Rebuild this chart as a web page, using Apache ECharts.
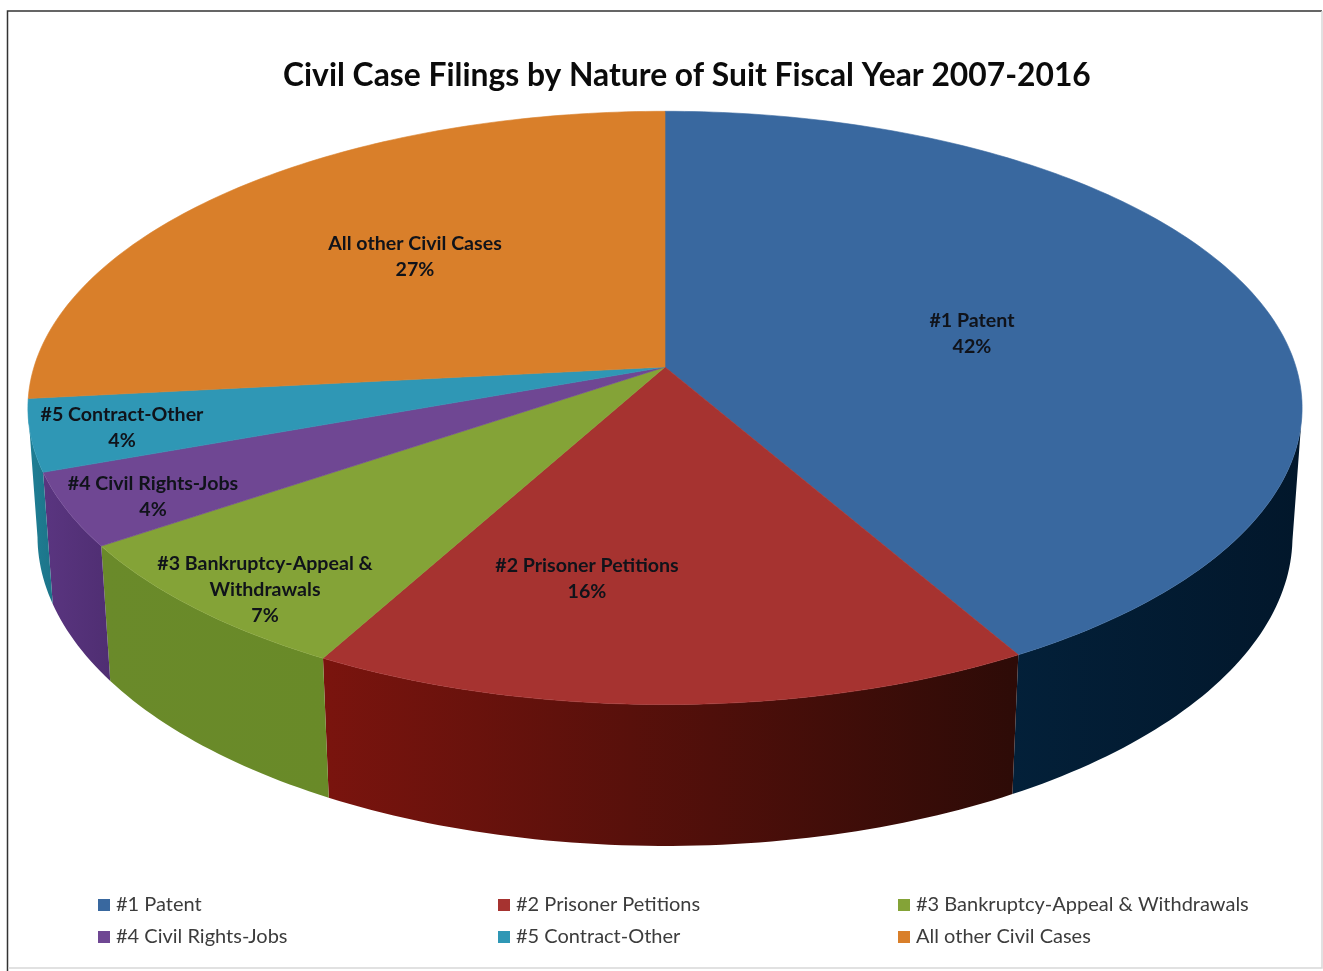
<!DOCTYPE html>
<html>
<head>
<meta charset="utf-8">
<style>html,body{margin:0;padding:0;background:#fff}#c{width:1323px;height:971px}</style>
<script src="https://cdn.jsdelivr.net/npm/echarts@6/dist/echarts.min.js"></script>
</head>
<body>
<div id="c"></div>
<script>
const titleText = 'Civil Case Filings by Nature of Suit Fiscal Year 2007-2016';
const categories = ['#1 Patent', '#2 Prisoner Petitions', '#3 Bankruptcy-Appeal & Withdrawals', '#4 Civil Rights-Jobs', '#5 Contract-Other', 'All other Civil Cases'];
const values = [41.8, 16.1, 7.5, 4.0, 3.9, 26.7];
const percentLabels = [42, 16, 7, 4, 4, 27];
const labelNames = ['#1 Patent', '#2 Prisoner Petitions', '#3 Bankruptcy-Appeal &\nWithdrawals', '#4 Civil Rights-Jobs', '#5 Contract-Other', 'All other Civil Cases'];
const topColors = ['#39689f', '#a63330', '#84a337', '#6f4793', '#2f97b5', '#d97f2a'];
const wallStops = [
  ['#032039', '#02172b'],
  ['#7a140e', '#2d0b07'],
  ['#6a8a2a', '#698a28'],
  ['#5a3580', '#4f2e72'],
  ['#1f7f95', '#1c7489'],
  ['#a85f1c', '#a85f1c']
];
// label anchor in the pie's own axis units (offset from the apex)
const labelAnchors = [[307, 33], [-78, -212], [-400, -223], [-512, -130], [-543, -61], [-250, 110]];

// perspective model of the disc
const A = 631, B = 291, K = 0.138, DROP = 129, M = 0.015;
function project(turn, depth) {
  const t = turn * 2 * Math.PI, X = Math.sin(t), Y = Math.cos(t);
  const w = 1 + K * Y + (depth ? M : 0);
  return [A * X / w, (B * Y - (depth ? DROP : 0)) / w];
}
const total = values.reduce((a, b) => a + b, 0);
function turns(from, to) {
  const n = Math.max(2, Math.ceil((to - from) * 360));
  const out = [];
  for (let i = 0; i <= n; i++) out.push(from + (to - from) * i / n);
  return out;
}
const chart = echarts.init(document.getElementById('c'), null, {renderer: 'canvas'});
const FONT = 'Lato';
let acc = 0;
const series = categories.map((name, idx) => {
  const from = acc / total; acc += values[idx]; const to = acc / total;
  return {
    type: 'custom', name, coordinateSystem: 'cartesian2d', silent: true, clip: false,
    itemStyle: {color: topColors[idx]},
    data: [{name, value: [labelAnchors[idx][0], labelAnchors[idx][1], percentLabels[idx]]}],
    renderItem(params, api) {
      const toPx = p => api.coord(p);
      const ts = turns(from, to);
      const topArc = ts.map(t => toPx(project(t, false)));
      const apex = toPx([0, 0]);
      const children = [];
      // only the side faces turned towards the viewer
      const front = ts.filter(t => Math.cos(2 * Math.PI * t) <= -K);
      if (front.length > 1) {
        const frontTop = front.map(t => toPx(project(t, false)));
        const frontBot = front.map(t => toPx(project(t, true)));
        const wall = frontTop.concat(frontBot.slice().reverse());
        const xs = wall.map(p => p[0]);
        const grad = new echarts.graphic.LinearGradient(Math.min(...xs), 0, Math.max(...xs), 0, [
          {offset: 0, color: wallStops[idx][0]}, {offset: 1, color: wallStops[idx][1]}
        ], true);
        children.push({type: 'polygon', z2: 1, shape: {points: wall}, style: {fill: grad}});
      }
      const lbl = toPx([api.value(0), api.value(1)]);
      children.push({type: 'polygon', z2: 10, shape: {points: [apex].concat(topArc)},
        style: {fill: topColors[idx], stroke: topColors[idx], lineWidth: 0.6}});
      children.push({type: 'text', z2: 20, x: lbl[0], y: lbl[1], style: {
        text: labelNames[idx] + '\n' + api.value(2) + '%',
        fill: '#10131a', font: 'bold 19.6px ' + FONT, align: 'center', verticalAlign: 'middle', lineHeight: 26
      }});
      return {type: 'group', children};
    }
  };
});
const legendBase = {orient: 'vertical', itemWidth: 12, itemHeight: 12, itemGap: 12, icon: 'rect',
  selectedMode: false, textStyle: {fontFamily: FONT, fontSize: 20, color: '#3c3c3c', padding: [0, 0, 0, 1]}};
chart.setOption({
  animation: false,
  backgroundColor: '#ffffff',
  title: {text: titleText, left: 278, top: 55,
    textStyle: {fontFamily: FONT, fontWeight: 'bold', fontSize: 31.8, color: '#0b0b0b'}},
  grid: {left: 28, top: 111, width: 1274, height: 735},
  xAxis: {type: 'value', min: -637, max: 637, show: false},
  yAxis: {type: 'value', min: -479, max: 256, show: false},
  legend: [
    Object.assign({}, legendBase, {left: 93, top: 890, data: [categories[0], categories[3]]}),
    Object.assign({}, legendBase, {left: 493, top: 890, data: [categories[1], categories[4]]}),
    Object.assign({}, legendBase, {left: 893, top: 890, data: [categories[2], categories[5]]})
  ],
  graphic: [
    {type: 'polyline', silent: true, shape: {points: [[7.5, 971], [7.5, 11], [1322, 11]]},
      style: {stroke: '#333', lineWidth: 1.5, fill: null}},
    {type: 'polyline', silent: true, shape: {points: [[1322, 11], [1322, 968], [8, 968]]},
      style: {stroke: '#d8d8d8', lineWidth: 1.5, fill: null}}
  ],
  series
});
</script>
</body>
</html>
